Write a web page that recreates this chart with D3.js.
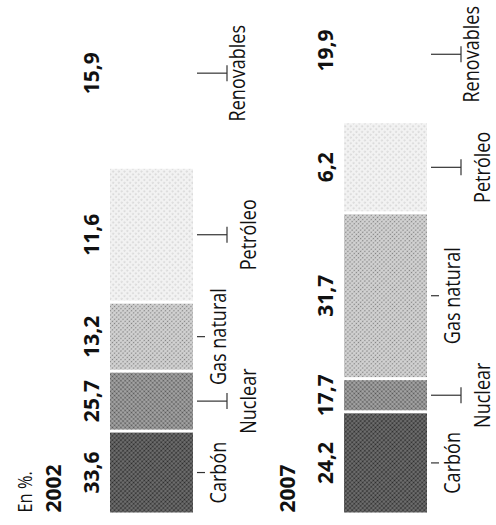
<!DOCTYPE html>
<meta charset="utf-8">
<script src="https://d3js.org/d3.v7.min.js"></script>
<style>
  body { margin: 0; background: #fff; }
  text { font-family: "Open Sans", sans-serif; fill: #111; }
</style>
<div id="chart"></div>
<script>

// categories, from the base of each bar upwards
const categorias = ["Carbón", "Nuclear", "Gas natural", "Petróleo", "Renovables"];
const anios = ["2002", "2007"];

// printed values (%)
const valores2002 = [33.6, 25.7, 13.2, 11.6, 15.9];
const valores2007 = [24.2, 17.7, 31.7, 6.2, 19.9];

// length of each block as it is drawn in the graphic (share of the bar, %)
const tramos2002 = [15.5, 11.2, 12.9, 25.2, 35.2];
const tramos2007 = [19.1, 6.2, 31.0, 17.0, 26.7];

// halftone screens: background, dot colour, dot radius, cell size
const tramas = [
  { fondo: "#747474", punto: "#2a2a2a", r: 1.1, paso: 3 },
  { fondo: "#a8a8a8", punto: "#555555", r: 1.0, paso: 3 },
  { fondo: "#d2d2d2", punto: "#808080", r: 0.8, paso: 3 },
  { fondo: "#f2f2f2", punto: "#9a9a9a", r: 0.6, paso: 4 },
  null
];

const W = 496, H = 525;

const svg = d3.select("#chart").append("svg")
  .attr("width", W)
  .attr("height", H);

const defs = svg.append("defs");
tramas.forEach(function(t, i) {
  if (!t) return;
  const p = defs.append("pattern")
    .attr("id", "trama" + i)
    .attr("patternUnits", "userSpaceOnUse")
    .attr("width", t.paso).attr("height", t.paso)
    .attr("patternTransform", "rotate(45)");
  p.append("rect").attr("width", t.paso).attr("height", t.paso).attr("fill", t.fondo);
  p.append("circle").attr("cx", t.paso / 2).attr("cy", t.paso / 2).attr("r", t.r).attr("fill", t.punto);
});

// the whole graphic is laid on its side: work in a rotated frame
// (u runs up the page, v runs to the right)
const g = svg.append("g")
  .attr("transform", `translate(0,${H}) rotate(-90)`);

const x = d3.scaleLinear().domain([0, 100]).range([12.5, 547.5]);
const y = d3.scaleBand().domain(anios).range([110, 427]).paddingInner(0.6453);

const datos = {
  "2002": { valores: valores2002, tramos: tramos2002 },
  "2007": { valores: valores2007, tramos: tramos2007 }
};

const gap = 3;
const estrecho = 0.82; // condensed type

anios.forEach(function(anio) {
  const d = datos[anio];
  let acum = 0;
  const bloques = d.tramos.map(function(t, i) {
    const b = { i: i, ini: acum, fin: acum + t, valor: d.valores[i], cat: categorias[i] };
    acum += t;
    return b;
  });
  const centro = b => (x(b.ini) + x(b.fin) - gap) / 2;

  const y0 = y(anio), y1 = y(anio) + y.bandwidth();
  const grp = g.append("g");

  // blocks
  grp.selectAll("rect")
    .data(bloques)
    .join("rect")
      .attr("x", b => x(b.ini))
      .attr("width", b => x(b.fin) - x(b.ini) - gap)
      .attr("y", y0)
      .attr("height", y.bandwidth())
      .attr("fill", b => tramas[b.i] ? "url(#trama" + b.i + ")" : "#fff");

  // values
  grp.selectAll("text.valor")
    .data(bloques)
    .join("text")
      .attr("class", "valor")
      .attr("x", centro)
      .attr("y", y0 - 11)
      .attr("text-anchor", "middle")
      .style("font-weight", "bold")
      .style("font-size", "21px")
      .text(b => d3.format(".1f")(b.valor).replace(".", ","));

  // year
  grp.append("text")
    .attr("x", x(0))
    .attr("y", y0 - 49)
    .style("font-weight", "bold")
    .style("font-size", "21px")
    .text(anio);

  // category labels, staggered in two rows, kept inside the page
  const fila = i => (i === 4 ? 52 : (i % 2 === 0 ? 33 : 63));
  grp.selectAll("text.cat")
    .data(bloques)
    .join("text")
      .attr("class", "cat")
      .attr("text-anchor", "middle")
      .style("font-size", "22px")
      .text(b => b.cat)
      .each(function(b) {
        const medio = this.getComputedTextLength() * estrecho / 2;
        b.pos = Math.min(centro(b), H - medio - 6);
      })
      .attr("transform", b => `translate(${b.pos},${y1 + fila(b.i)}) scale(${estrecho},1)`);

  // leader ticks
  bloques.forEach(function(b) {
    const c = b.pos;
    const largo = (b.i % 2 === 0 && b.i !== 4) ? 8 : 30;
    grp.append("line")
      .attr("x1", c).attr("x2", c)
      .attr("y1", y1 + 4).attr("y2", y1 + 4 + largo)
      .attr("stroke", "#333").attr("stroke-width", 1.2);
    if (largo > 8) {
      grp.append("line")
        .attr("x1", c - 8).attr("x2", c + 8)
        .attr("y1", y1 + 4 + largo).attr("y2", y1 + 4 + largo)
        .attr("stroke", "#333").attr("stroke-width", 1.2);
    }
  });
});

// note
g.append("text")
  .attr("transform", `translate(${x(0)},32) scale(${estrecho},1)`)
  .style("font-size", "20px")
  .text("En %.");

</script>
